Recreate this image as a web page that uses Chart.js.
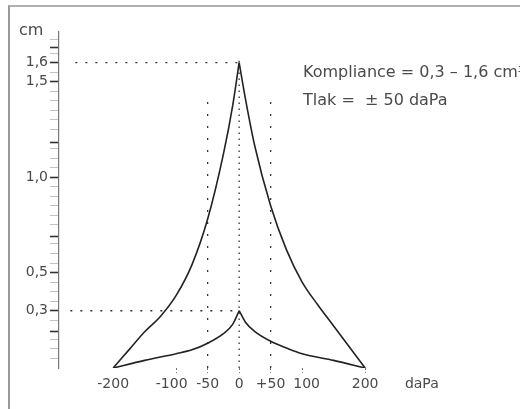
<!DOCTYPE html>
<html>
<head>
<meta charset="utf-8">
<script src="https://cdn.jsdelivr.net/npm/chart.js@4.4.1/dist/chart.umd.min.js"></script>
<style>
  html, body { margin: 0; padding: 0; background: #fff; }
  #wrap { position: relative; width: 520px; height: 409px; overflow: hidden; }
  #frame { position: absolute; left: 8px; top: 5px; width: 600px; height: 500px;
           border-left: 2px solid #9a9a9a; border-top: 2px solid #b0b0b0; }
</style>
</head>
<body>
<div id="wrap">
  <canvas id="tympChart" width="520" height="409"></canvas>
  <div id="frame"></div>
</div>
<script>
// tlak (daPa) a kompliance (cm3), kazda vetev zvlast kvuli spicce
const pressureHighL = [-200, -175, -150, -125, -100, -75, -50, -25, -10, 0];
const complianceHighL = [0, 0.095, 0.19, 0.27, 0.38, 0.54, 0.78, 1.12, 1.38, 1.6];
const pressureHighR = [0, 10, 25, 50, 75, 100, 125, 150, 175, 200];
const complianceHighR = [1.6, 1.41, 1.16, 0.85, 0.62, 0.45, 0.33, 0.22, 0.11, 0];

const pressureLowL = [-200, -150, -100, -75, -50, -25, -10, 0];
const complianceLowL = [0, 0.04, 0.075, 0.095, 0.13, 0.18, 0.23, 0.3];
const pressureLowR = [0, 10, 25, 50, 75, 100, 150, 200];
const complianceLowR = [0.3, 0.24, 0.19, 0.14, 0.105, 0.075, 0.04, 0];

const xTicks = [-200, -100, -50, 0, 50, 100, 200, 290];
const xLabels = ['-200', '-100  ', '-50', '0', '+50', '  100', '200', 'daPa'];

const yLabelTicks = [0.3, 0.5, 1.0, 1.5, 1.6];
const yLabels = ['0,3', '0,5', '1,0', '1,5', '1,6'];
const yMajorTicks = [0.19, 0.69, 1.18, 1.68];
const yMinorTicks = [0.05, 0.1, 0.15, 0.25, 0.35, 0.4, 0.45, 0.55, 0.6, 0.65, 0.75, 0.8, 0.85, 0.9, 0.95,
                     1.05, 1.1, 1.15, 1.25, 1.3, 1.35, 1.4, 1.45, 1.55, 1.65, 1.72];

// pomocne teckovane cary
const guideH16 = [{x: -260, y: 1.6}, {x: 0, y: 1.6}];
const guideH03 = [{x: -268, y: 0.3}, {x: 0, y: 0.3}];
const guideV0 = [{x: 0, y: 0}, {x: 0, y: 1.61}];
const guideVm50 = [{x: -50, y: 0}, {x: -50, y: 1.44}];
const guideVp50 = [{x: 50, y: 0}, {x: 50, y: 1.44}];

const toPoints = (xs, ys) => xs.map((x, i) => ({x: x, y: ys[i]}));

const textColor = '#4a4a4a';

const notesPlugin = {
    id: 'notes',
    afterDraw(chart) {
        const c = chart.ctx;
        c.save();
        c.fillStyle = textColor;
        c.textBaseline = 'alphabetic';
        c.font = '16px "DejaVu Sans"';
        c.fillText('cm', 19, 35);
        c.fillText('Kompliance = 0,3 – 1,6 cm³', 303, 77);
        c.fillText('Tlak =  ± 50 daPa', 303, 105);
        c.restore();
    }
};

const curve = (data) => ({
    data: data,
    showLine: true,
    borderColor: '#222',
    borderWidth: 1.6,
    pointRadius: 0,
    cubicInterpolationMode: 'monotone'
});

const dotted = (data, dash, width) => ({
    data: data,
    showLine: true,
    borderColor: '#333',
    borderWidth: width || 1.3,
    borderDash: dash,
    pointRadius: 0,
    fill: false
});

const ctx = document.getElementById('tympChart').getContext('2d');
new Chart(ctx, {
    type: 'scatter',
    data: {
        datasets: [
            curve(toPoints(pressureHighL, complianceHighL)),
            curve(toPoints(pressureHighR, complianceHighR)),
            curve(toPoints(pressureLowL, complianceLowL)),
            curve(toPoints(pressureLowR, complianceLowR)),
            dotted(guideH16, [2, 8]),
            dotted(guideH03, [2, 8]),
            dotted(guideV0, [1.5, 4.5]),
            dotted(guideVm50, [2, 10]),
            dotted(guideVp50, [2, 10])
        ]
    },
    options: {
        responsive: false,
        animation: false,
        layout: { padding: { top: 32, right: 10, left: 0, bottom: 0 } },
        plugins: {
            legend: { display: false },
            tooltip: { enabled: false }
        },
        scales: {
            x: {
                type: 'linear',
                min: -286,
                max: 430,
                afterBuildTicks: axis => { axis.ticks = xTicks.map(v => ({value: v})); },
                afterFit: axis => { axis.height = 41; },
                border: { display: false },
                grid: {
                    drawOnChartArea: false,
                    tickLength: 5,
                    tickColor: c => (c.tick && (c.tick.value === 290 || c.tick.value === -200)) ? 'rgba(0,0,0,0)' : '#777',
                    tickBorderDash: [2, 2]
                },
                ticks: {
                    autoSkip: false,
                    maxRotation: 0,
                    padding: 3,
                    color: textColor,
                    font: { family: 'DejaVu Sans', size: 14 },
                    callback: v => xLabels[xTicks.indexOf(v)]
                }
            },
            y: {
                type: 'linear',
                min: 0,
                max: 1.76,
                afterBuildTicks: axis => {
                    axis.ticks = yLabelTicks.concat(yMajorTicks, yMinorTicks)
                        .sort((a, b) => a - b).map(v => ({value: v}));
                },
                afterFit: axis => { axis.width = 59; },
                border: { display: true, color: '#777', width: 1.2, dash: [3, 2] },
                grid: {
                    drawOnChartArea: false,
                    tickLength: 9,
                    tickColor: c => {
                        const v = c.tick ? c.tick.value : null;
                        if (yLabelTicks.includes(v) || yMajorTicks.includes(v)) return '#333';
                        return 'rgba(120,120,120,0.45)';
                    },
                    tickWidth: c => {
                        const v = c.tick ? c.tick.value : null;
                        return (yLabelTicks.includes(v) || yMajorTicks.includes(v)) ? 1.6 : 1;
                    }
                },
                ticks: {
                    autoSkip: false,
                    padding: 2,
                    color: textColor,
                    font: { family: 'DejaVu Sans', size: 14 },
                    callback: v => {
                        const i = yLabelTicks.indexOf(v);
                        return i >= 0 ? yLabels[i] : '';
                    }
                }
            }
        }
    },
    plugins: [notesPlugin]
});
</script>
</body>
</html>
